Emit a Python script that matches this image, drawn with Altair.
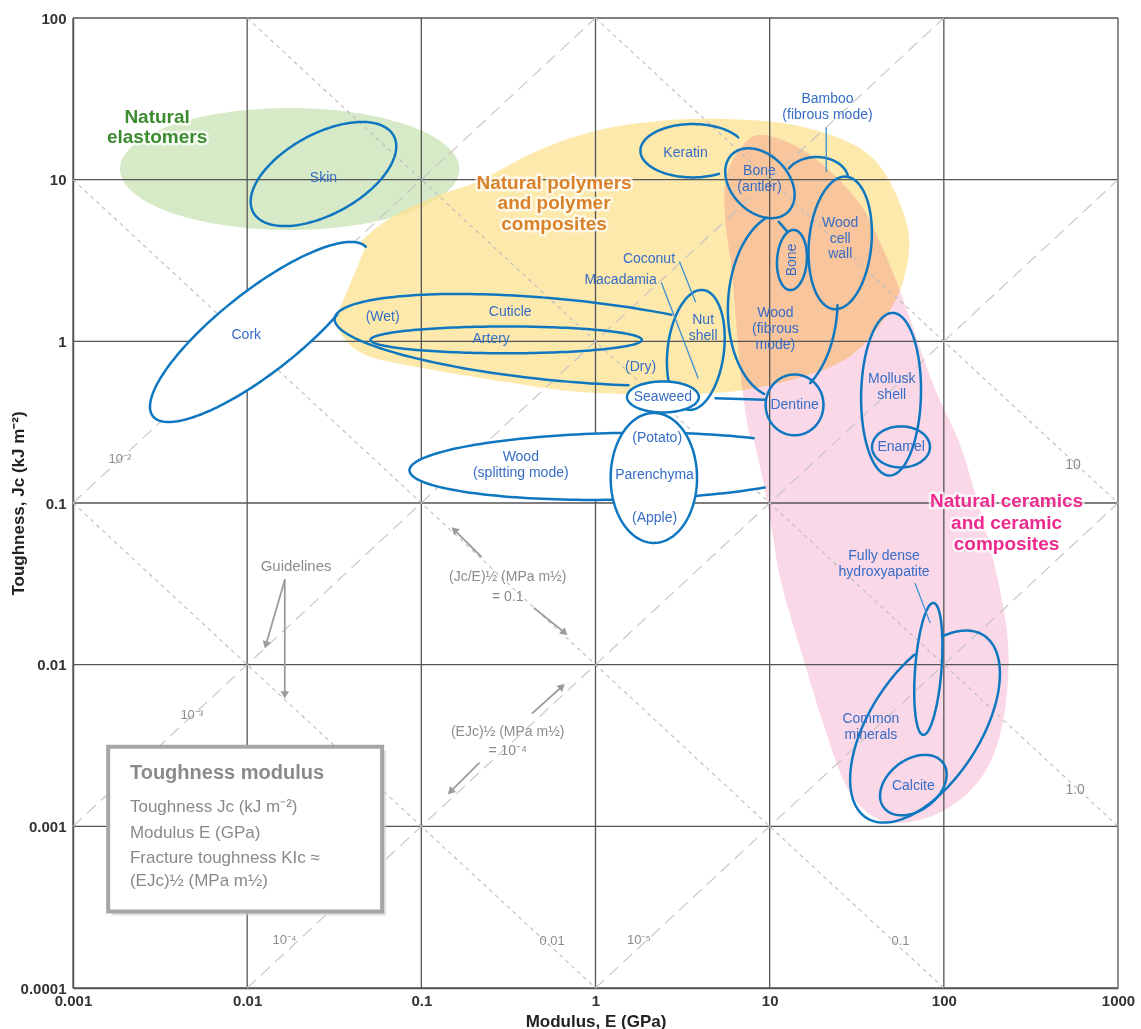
import altair as alt
import numpy as np
import pandas as pd

FONT = "Liberation Sans Narrow, Liberation Sans, Arial, sans-serif"
BLUE = "#0f77bf"
LABEL_BLUE = "#376dc6"
GUIDE_GRAY = "#8c8c8c"

X_TICKS = [0.001, 0.01, 0.1, 1, 10, 100, 1000]
Y_TICKS = [0.0001, 0.001, 0.01, 0.1, 1, 10, 100]

# ---------------- envelopes (log10 E, log10 J) ----------------
green_logE, green_logJ, green_dE, green_dJ = -1.756, 1.066, 0.974, 0.377

yellow_logE = [-1.527, -1.487, -1.413, -1.287, -1.126, -0.897, -0.668, -0.324, 0.020, 0.364,
               0.725, 1.109, 1.424, 1.602, 1.722, 1.797, 1.779, 1.682, 1.464, 1.166,
               0.851, 0.536, 0.135, -0.209, -0.553, -0.897, -1.183, -1.355, -1.458]
yellow_logJ = [0.225, 0.380, 0.534, 0.677, 0.794, 0.905, 0.992, 1.184, 1.307, 1.363,
               1.375, 1.344, 1.246, 1.122, 0.918, 0.670, 0.423, 0.176, -0.090, -0.226,
               -0.301, -0.325, -0.325, -0.301, -0.245, -0.183, -0.127, -0.066, 0.040]

pink_logE = [0.937, 1.138, 1.338, 1.522, 1.653, 1.768, 1.940, 2.083, 2.181, 2.284,
             2.358, 2.370, 2.330, 2.226, 2.026, 1.768, 1.579, 1.436, 1.310, 1.195,
             1.063, 0.983, 0.891, 0.840, 0.811, 0.782, 0.742, 0.754, 0.834]
pink_logJ = [1.276, 1.215, 1.060, 0.844, 0.565, 0.256, -0.270, -0.610, -0.944, -1.352,
             -1.754, -2.063, -2.403, -2.682, -2.886, -2.978, -2.929, -2.743, -2.372, -1.970,
             -1.476, -0.981, -0.616, -0.270, 0.070, 0.442, 0.782, 1.029, 1.196]

# ---------------- material bubbles ----------------
names = ["Skin", "Cork", "Keratin", "Bone (antler)", "Bamboo", "Wood cell wall", "Bone",
         "Wood (fibrous)", "Dentine", "Nut shell", "Cuticle", "Artery", "Seaweed",
         "Wood (splitting)", "Parenchyma", "Mollusk shell", "Enamel", "Hydroxyapatite",
         "Common minerals", "Calcite"]
c_logE = [-1.562, -1.928, 0.559, 0.944, 1.269, 1.405, 1.128, 1.075, 1.143, 0.576,
          -0.209, -0.513, 0.387, 0.135, 0.335, 1.697, 1.754, 1.911, 1.892, 1.825]
c_logJ = [1.035, 0.058, 1.179, 0.978, 0.998, 0.609, 0.503, 0.225, -0.393, -0.053,
          0.009, 0.009, -0.344, -0.773, -0.845, -0.327, -0.653, -2.026, -2.383, -2.745]
half_dE = [0.418, 0.630, 0.301, 0.199, 0.183, 0.182, 0.086, 0.315, 0.166, 0.166,
           1.289, 0.779, 0.206, 1.203, 0.248, 0.172, 0.166, 0.081, 0.430, 0.191]
half_dJ = [0.322, 0.557, 0.165, 0.216, 0.142, 0.410, 0.186, 0.575, 0.188, 0.371,
           0.284, 0.083, 0.096, 0.208, 0.402, 0.503, 0.127, 0.408, 0.594, 0.187]
rho = [0.53, 0.83, 0.0, -0.33, 0.0, 0.15, 0.1, 0.05, 0.0, 0.2,
       -0.45, 0.0, 0.0, 0.12, 0.0, 0.05, 0.0, 0.35, 0.55, 0.35]
arcs = [[(0, 360)], [(15, 315)], [(30, 300)], [(0, 360)], [(8, 150)], [(0, 360)], [(0, 360)],
        [(107, 250), (300, 357)], [(0, 360)], [(0, 360)], [(60, 288)], [(0, 360)], [(0, 360)],
        [(50, 314)], [(0, 360)], [(0, 360)], [(0, 360)], [(0, 360)], [(98, 437)], [(0, 360)]]
white_low = ["Cork", "Wood (splitting)"]
white_top = ["Seaweed", "Parenchyma"]

# connectors & leader lines (log10 E, log10 J start -> end)
connectors = [("nut-dentine", 0.689, -0.352, 0.977, -0.362),
              ("antler-bone", 1.052, 0.740, 1.103, 0.677)]
leaders = [("coconut", 0.483, 0.491, 0.574, 0.245),
           ("macadamia", 0.379, 0.361, 0.589, -0.227),
           ("bamboo", 1.325, 1.318, 1.325, 1.051),
           ("hydroxy", 1.835, -1.498, 1.921, -1.740)]
arrows = [("a1", -1.784, -1.476, -1.893, -1.878, 196),
          ("a2", -1.784, -1.476, -1.784, -2.187, 180),
          ("b1", -0.657, -1.331, -0.811, -1.166, 313),
          ("b2", -0.351, -1.651, -0.177, -1.802, 129),
          ("c1", -0.362, -2.300, -0.192, -2.135, 48),
          ("c2", -0.669, -2.609, -0.833, -2.785, 225)]

# guideline constants
ratio_JE = [100, 1, 0.01, 1e-4]        # J = c*E  (slope +1)
prod_EJ = [1e-4, 1e-2, 1, 100]         # E*J = k (slope -1)

# labels
blue_labels = [("Skin", -1.562, 1.011), ("Cork", -2.005, 0.040), ("Keratin", 0.517, 1.167),
               ("Bone", 0.941, 1.054), ("(antler)", 0.941, 0.957), ("Bamboo", 1.332, 1.497),
               ("(fibrous mode)", 1.332, 1.400), ("Wood", 1.405, 0.730), ("cell", 1.405, 0.633),
               ("wall", 1.405, 0.539), ("Wood", 1.033, 0.174), ("(fibrous", 1.033, 0.075),
               ("mode)", 1.033, -0.022), ("Dentine", 1.143, -0.393), ("Nut", 0.618, 0.132),
               ("shell", 0.618, 0.033), ("Coconut", 0.307, 0.510), ("Macadamia", 0.144, 0.380),
               ("Cuticle", -0.490, 0.184), ("(Wet)", -1.222, 0.153), ("Artery", -0.599, 0.013),
               ("(Dry)", 0.259, -0.157), ("Seaweed", 0.387, -0.344), ("Wood", -0.429, -0.713),
               ("(splitting mode)", -0.429, -0.816), ("(Potato)", 0.354, -0.599),
               ("Parenchyma", 0.339, -0.826), ("(Apple)", 0.339, -1.094), ("Mollusk", 1.701, -0.233),
               ("shell", 1.701, -0.331), ("Enamel", 1.755, -0.653), ("Fully dense", 1.657, -1.325),
               ("hydroxyapatite", 1.657, -1.425), ("Common", 1.581, -2.337),
               ("minerals", 1.581, -2.437), ("Calcite", 1.825, -2.752)]
rot_labels = [("Bone", 1.128, 0.503)]
env_labels = [("Natural", -2.517, 1.390, "g"), ("elastomers", -2.517, 1.262, "g"),
              ("Natural polymers", -0.238, 0.981, "o"), ("and polymer", -0.238, 0.854, "o"),
              ("composites", -0.238, 0.724, "o"),
              ("Natural ceramics", 2.360, -0.990, "m"), ("and ceramic", 2.360, -1.122, "m"),
              ("composites", 2.360, -1.255, "m")]
guide_labels = [("10⁻²", -2.731, -0.727, 13), ("10⁻³", -2.318, -2.311, 13), ("10⁻⁴", -1.785, -3.702, 13),
                ("10⁻⁵", 0.249, -3.702, 13), ("0.01", -0.249, -3.708, 13), ("0.1", 1.751, -3.708, 13),
                ("10", 2.742, -0.764, 14), ("1.0", 2.754, -2.774, 14), ("Guidelines", -1.719, -1.389, 15),
                ("(Jc/E)½ (MPa m½)", -0.504, -1.455, 14), ("= 0.1", -0.504, -1.579, 14),
                ("(EJc)½ (MPa m½)", -0.504, -2.414, 14), ("= 10⁻⁴", -0.504, -2.537, 14)]
legend_box = (-2.798, -1.225, -2.507, -3.527)   # logE1, logE2, logJ1, logJ2
legend_title = ("Toughness modulus", -2.671)
legend_lines = [("Toughness Jc (kJ m⁻²)", -2.881), ("Modulus E (GPa)", -3.042),
                ("Fracture toughness KIc ≈", -3.197), ("(EJc)½ (MPa m½)", -3.341)]
legend_logE = -2.673

# ---------------- geometry helpers ----------------
def ell(lE, lJ, dE, dJ, r, t0, t1):
    n = int(abs(t1 - t0) / 2) + 2
    t = np.radians(np.linspace(t0, t1, n))
    u = lE + dE * np.cos(t)
    v = lJ + dJ * (r * np.cos(t) + np.sqrt(1 - r * r) * np.sin(t))
    return 10 ** u, 10 ** v


def poly_df(E, J, seg):
    return pd.DataFrame({"E": E, "J": J, "idx": np.arange(len(E)), "seg": seg})


gE, gJ = ell(green_logE, green_logJ, green_dE, green_dJ, 0.0, 0, 360)
green_df = poly_df(gE, gJ, "green")
yellow_df = poly_df(10 ** np.array(yellow_logE), 10 ** np.array(yellow_logJ), "yellow")
pink_df = poly_df(10 ** np.array(pink_logE), 10 ** np.array(pink_logJ), "pink")

out_base, out_top, fill_low, fill_top = [], [], [], []
for i, nm in enumerate(names):
    for k, (t0, t1) in enumerate(arcs[i]):
        E, J = ell(c_logE[i], c_logJ[i], half_dE[i], half_dJ[i], rho[i], t0, t1)
        d = poly_df(E, J, f"{nm}-{k}")
        (out_top if nm in white_top else out_base).append(d)
        if k == 0 and nm in white_low:
            fill_low.append(d)
        if k == 0 and nm in white_top:
            fill_top.append(d)
out_base = pd.concat(out_base)
out_top = pd.concat(out_top)
fill_low = pd.concat(fill_low)
fill_top = pd.concat(fill_top)


def seg_df(items):
    rows = []
    for it in items:
        rows.append({"seg": it[0], "idx": 0, "E": 10 ** it[1], "J": 10 ** it[2]})
        rows.append({"seg": it[0], "idx": 1, "E": 10 ** it[3], "J": 10 ** it[4]})
    return pd.DataFrame(rows)


conn_df = seg_df(connectors)
lead_df = seg_df(leaders)
arrow_df = seg_df([a[:5] for a in arrows])
head_df = pd.DataFrame({"E": [10 ** a[3] for a in arrows], "J": [10 ** a[4] for a in arrows],
                        "ang": [a[5] for a in arrows]})

rows = []
for c in ratio_JE:
    e0, e1 = max(1e-3, 1e-4 / c), min(1e3, 1e2 / c)
    rows += [{"seg": f"r{c}", "idx": 0, "E": e0, "J": c * e0}, {"seg": f"r{c}", "idx": 1, "E": e1, "J": c * e1}]
up_df = pd.DataFrame(rows)
rows = []
for k in prod_EJ:
    e0, e1 = max(1e-3, k / 1e2), min(1e3, k / 1e-4)
    rows += [{"seg": f"p{k}", "idx": 0, "E": e0, "J": k / e0}, {"seg": f"p{k}", "idx": 1, "E": e1, "J": k / e1}]
down_df = pd.DataFrame(rows)


def lab_df(items):
    return pd.DataFrame({"text": [a[0] for a in items], "E": [10 ** a[1] for a in items],
                         "J": [10 ** a[2] for a in items]})


blue_df = lab_df(blue_labels)
rot_df = lab_df(rot_labels)
env_df = lab_df(env_labels)
env_df["grp"] = [a[3] for a in env_labels]
guide_df = lab_df(guide_labels)
guide_df["size"] = [a[3] for a in guide_labels]
leg_title_df = pd.DataFrame({"text": [legend_title[0]], "E": [10 ** legend_logE], "J": [10 ** legend_title[1]]})
leg_df = pd.DataFrame({"text": [a[0] for a in legend_lines], "E": 10 ** legend_logE,
                       "J": [10 ** a[1] for a in legend_lines]})
box_df = pd.DataFrame({"E1": [10 ** legend_box[0]], "E2": [10 ** legend_box[1]],
                       "J1": [10 ** legend_box[2]], "J2": [10 ** legend_box[3]]})
shadow_df = pd.DataFrame({"E1": [10 ** (legend_box[0] + 0.023)], "E2": [10 ** (legend_box[1] + 0.023)],
                          "J1": [10 ** (legend_box[2] - 0.025)], "J2": [10 ** (legend_box[3] - 0.025)]})

# ---------------- scales / axes ----------------
xs = alt.Scale(type="log", domain=[0.001, 1000])
ys = alt.Scale(type="log", domain=[0.0001, 100])
x_axis = alt.Axis(values=X_TICKS, format="~g", grid=False, ticks=False, labelFlush=False,
                  labelOverlap=False, labelFont=FONT, labelFontSize=15, labelFontWeight="bold",
                  labelColor="#333333", labelPadding=5, domainColor="#555555", domainWidth=1.5,
                  title="Modulus, E (GPa)", titleFont=FONT, titleFontSize=17, titleFontWeight="bold",
                  titleColor="#222222", titleY=33, titleBaseline="middle")
y_axis = alt.Axis(values=Y_TICKS, format="~g", grid=False, ticks=False, labelFlush=False,
                  labelOverlap=False, labelFont=FONT, labelFontSize=15, labelFontWeight="bold",
                  labelColor="#333333", labelPadding=7, domainColor="#555555", domainWidth=1.5,
                  title="Toughness, Jc (kJ m⁻²)", titleFont=FONT, titleFontSize=17,
                  titleFontWeight="bold", titleColor="#222222", titleX=-55, titleY=485,
                  titleAngle=270, titleAlign="center", titleBaseline="middle")


def X(f="E"):
    return alt.X(f"{f}:Q", scale=xs, axis=x_axis)


def Y(f="J"):
    return alt.Y(f"{f}:Q", scale=ys, axis=y_axis)


def closed(df, color, interp="cardinal-closed", opacity=0.75, blend=None):
    kw = dict(fill=color, fillOpacity=opacity, strokeWidth=0, strokeOpacity=0, interpolate=interp)
    if blend:
        kw["blend"] = blend
    return alt.Chart(df).mark_line(**kw).encode(x=X(), y=Y(), detail="seg:N", order="idx:Q")


def outline(df, width=2.5, color=BLUE):
    return alt.Chart(df).mark_line(stroke=color, strokeWidth=width, strokeCap="round",
                                   strokeJoin="round").encode(x=X(), y=Y(), detail="seg:N", order="idx:Q")


layers = []
layers.append(closed(green_df, "#c8e3b6"))
layers.append(closed(yellow_df, "#fce290"))
layers.append(closed(pink_df, "#f8cbe0", blend="multiply"))
# grid
layers.append(alt.Chart(pd.DataFrame({"E": X_TICKS})).mark_rule(color="#555555", strokeWidth=1.3).encode(x=X()))
layers.append(alt.Chart(pd.DataFrame({"J": Y_TICKS})).mark_rule(color="#555555", strokeWidth=1.3).encode(y=Y()))
# guidelines
layers.append(alt.Chart(up_df).mark_line(color="#c4c4c4", strokeWidth=1.1, strokeDash=[12, 7]).encode(
    x=X(), y=Y(), detail="seg:N", order="idx:Q"))
layers.append(alt.Chart(down_df).mark_line(color="#bdbdbd", strokeWidth=1.1, strokeDash=[4, 4]).encode(
    x=X(), y=Y(), detail="seg:N", order="idx:Q"))
# bubbles
layers.append(closed(fill_low, "white", interp="linear-closed", opacity=1))
layers.append(outline(out_base))
layers.append(outline(conn_df))
layers.append(closed(fill_top, "white", interp="linear-closed", opacity=1))
layers.append(outline(out_top))
layers.append(outline(lead_df, width=1.3, color="#3f8fd2"))
# arrows
layers.append(outline(arrow_df, width=1.8, color="#9c9c9c"))
layers.append(alt.Chart(head_df).mark_point(shape="triangle-up", filled=True, size=70, color="#9c9c9c",
                                            opacity=1).encode(x=X(), y=Y(), angle=alt.Angle("ang:Q", scale=None)))
# labels
layers.append(alt.Chart(blue_df).mark_text(font=FONT, fontSize=14, color=LABEL_BLUE).encode(
    x=X(), y=Y(), text="text:N"))
layers.append(alt.Chart(rot_df).mark_text(font=FONT, fontSize=14, color=LABEL_BLUE, angle=270).encode(
    x=X(), y=Y(), text="text:N"))
env_color = alt.Color("grp:N", scale=alt.Scale(domain=["g", "o", "m"], range=["#3d8b2f", "#d9812a", "#ec2a8e"]),
                      legend=None)
layers.append(alt.Chart(env_df).mark_text(font=FONT, fontSize=19, fontWeight="bold", stroke="white",
                                          strokeWidth=5, strokeOpacity=0.7, strokeJoin="round", color="white").encode(
    x=X(), y=Y(), text="text:N"))
layers.append(alt.Chart(env_df).mark_text(font=FONT, fontSize=19, fontWeight="bold").encode(
    x=X(), y=Y(), text="text:N", color=env_color))
layers.append(alt.Chart(guide_df).mark_text(font=FONT, color=GUIDE_GRAY).encode(
    x=X(), y=Y(), text="text:N", size=alt.Size("size:Q", scale=None)))
# legend panel
layers.append(alt.Chart(shadow_df).mark_rect(fill="#cfcfcf", opacity=0.6).encode(
    x=X("E1"), x2="E2", y=Y("J1"), y2="J2"))
layers.append(alt.Chart(box_df).mark_rect(fill="white", stroke="#a6a6a6", strokeWidth=4).encode(
    x=X("E1"), x2="E2", y=Y("J1"), y2="J2"))
layers.append(alt.Chart(leg_title_df).mark_text(font=FONT, color="#8a8a8a", align="left", fontSize=20,
                                                fontWeight="bold").encode(x=X(), y=Y(), text="text:N"))
layers.append(alt.Chart(leg_df).mark_text(font=FONT, color="#8a8a8a", align="left", fontSize=17).encode(
    x=X(), y=Y(), text="text:N"))

chart = alt.layer(*layers).properties(
    width=1045, height=970,
    padding={"left": 73, "top": 18, "right": 23, "bottom": 41},
    autosize=alt.AutoSizeParams(type="none"),
    background="white",
).configure_view(stroke=None)

chart.save("out.html", embed_options={"renderer": "svg", "actions": False})
